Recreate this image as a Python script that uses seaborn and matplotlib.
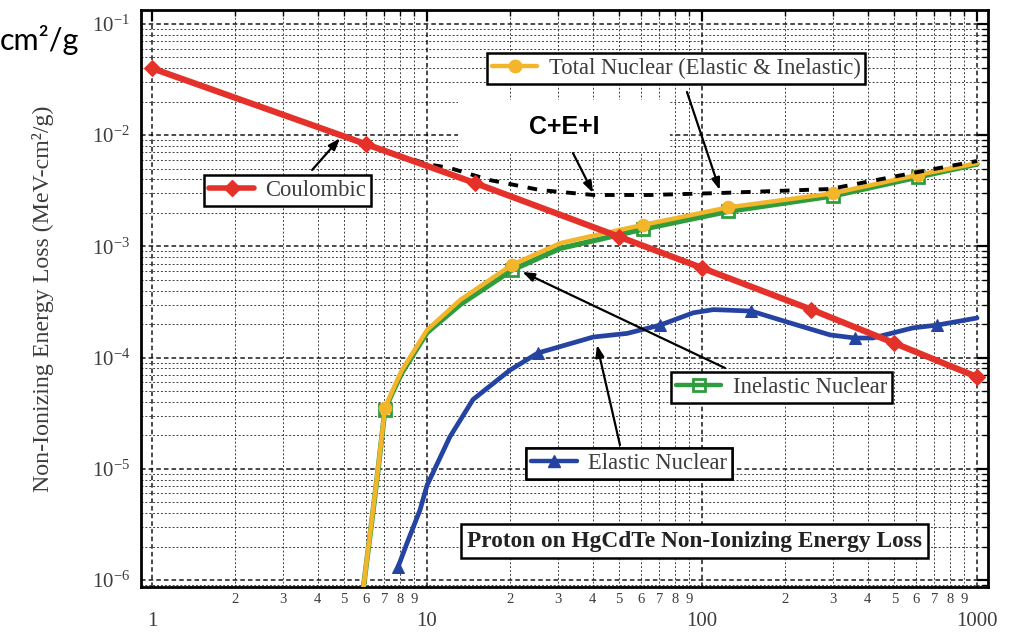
import numpy as np
import pandas as pd
import matplotlib
matplotlib.use("Agg")
import matplotlib.pyplot as plt
import matplotlib.ticker as mticker
import matplotlib.patches as mpatches
from matplotlib.lines import Line2D
import seaborn as sns

# proton energy (MeV) vs NIEL (MeV-cm2/g)
coul_e = [1, 6, 15, 50, 100, 250, 500, 1000]
coul_niel = [0.040, 0.0083, 0.0037, 0.00122, 0.00064, 0.00027, 0.000135, 6.7e-5]

total_e = [5.85, 6.28, 6.63, 7.03, 7.5, 8.1, 10, 13.2, 20.3, 30.5, 42.6, 61, 124, 299, 610, 1000]
total_niel = [8e-7, 3.3e-6, 9.8e-6, 3.5e-5, 5.1e-5, 7.7e-5, 1.77e-4, 3.3e-4, 6.8e-4, 1.07e-3,
              1.29e-3, 1.56e-3, 2.24e-3, 3.0e-3, 4.4e-3, 5.6e-3]

inel_e = [5.85, 6.28, 6.63, 7.03, 7.5, 8.1, 10, 13.2, 20.3, 30.5, 42.6, 61, 124, 299, 610, 1000]
inel_niel = [8e-7, 3.2e-6, 9.6e-6, 3.4e-5, 4.9e-5, 7.3e-5, 1.68e-4, 3.0e-4, 6.1e-4, 9.6e-4,
             1.16e-3, 1.43e-3, 2.06e-3, 2.84e-3, 4.2e-3, 5.5e-3]

elas_e = [7.85, 8.46, 9.43, 10, 12.1, 14.7, 20, 25.3, 40.2, 53.4, 70.4, 93, 110, 151, 209,
          292, 360, 417, 585, 716, 1000]
elas_niel = [1.31e-6, 2.15e-6, 4.26e-6, 7.1e-6, 1.93e-5, 4.2e-5, 7.7e-5, 1.1e-4, 1.53e-4,
             1.65e-4, 1.96e-4, 2.53e-4, 2.7e-4, 2.62e-4, 2.05e-4, 1.6e-4, 1.5e-4, 1.5e-4,
             1.85e-4, 1.96e-4, 2.27e-4]

# Coulombic + Elastic + Inelastic (dashed)
sum_e = [9, 10, 12.1, 16.9, 25.8, 40.2, 64.7, 116, 292, 610, 1000]
sum_niel = [6.0e-3, 5.5e-3, 5.07e-3, 3.95e-3, 3.21e-3, 2.9e-3, 2.9e-3, 3.02e-3, 3.28e-3,
            4.67e-3, 5.86e-3]

nuc_marks = [3, 8, 11, 12, 13, 14]
elas_marks = [0, 7, 10, 13, 16, 19]

RED = "#E4322A"
YEL = "#F3B62A"
GRN = "#2F9C3E"
BLU = "#2544A2"
TXT = "#3c3c3c"

sns.set_style("white")
plt.rcParams["font.family"] = ["Liberation Serif", "DejaVu Serif"]
plt.rcParams["mathtext.default"] = "regular"

fig = plt.figure(figsize=(10.15, 6.34), dpi=100)
ax = fig.add_axes([141 / 1015, 1 - 587 / 634, 847 / 1015, 577 / 634])
ax.set_xscale("log")
ax.set_yscale("log")

sns.lineplot(x=inel_e, y=inel_niel, ax=ax, color=GRN, lw=3.8, marker="s", ms=8,
             mfc="none", mec=GRN, mew=2, markevery=nuc_marks, estimator=None, sort=False,
             zorder=3)
sns.lineplot(x=total_e, y=total_niel, ax=ax, color=YEL, lw=3.2, marker="o", ms=9,
             mec=YEL, markevery=nuc_marks, estimator=None, sort=False, zorder=4)
sns.lineplot(x=elas_e, y=elas_niel, ax=ax, color=BLU, lw=3.4, marker="^", ms=9,
             mec=BLU, markevery=elas_marks, estimator=None, sort=False, zorder=4)
sns.lineplot(x=sum_e, y=sum_niel, ax=ax, color="black", lw=2.8, ls=(0, (2.5, 2.5)),
             estimator=None, sort=False, zorder=5)
sns.lineplot(x=coul_e, y=coul_niel, ax=ax, color=RED, lw=4.5, marker="D", ms=8,
             mec=RED, estimator=None, sort=False, zorder=6)

ax.set_xlim(0.912, 1096)
ax.set_ylim(8.65e-7, 0.1336)

# grid
ax.grid(True, which="major", color="black", ls=(0, (3, 2)), lw=1.1, alpha=0.9)
ax.grid(True, which="minor", color="black", ls=(0, (2, 2)), lw=0.7, alpha=0.75)
ax.set_axisbelow(True)

# ticks
ax.xaxis.set_major_locator(mticker.LogLocator(base=10, numticks=10))
ax.xaxis.set_minor_locator(mticker.LogLocator(base=10, subs=np.arange(2, 10), numticks=20))
ax.xaxis.set_major_formatter(mticker.FuncFormatter(lambda v, p: f"{int(round(v))}"))
ax.xaxis.set_minor_formatter(mticker.FuncFormatter(
    lambda v, p: f"{int(round(v / 10 ** np.floor(np.log10(v) + 1e-9)))}"))
ax.yaxis.set_major_locator(mticker.LogLocator(base=10, numticks=10))
ax.yaxis.set_minor_locator(mticker.LogLocator(base=10, subs=np.arange(2, 10), numticks=20))
ax.yaxis.set_major_formatter(mticker.LogFormatterMathtext())
ax.yaxis.set_minor_formatter(mticker.NullFormatter())

ax.tick_params(which="both", direction="in", top=True, right=True, colors="black",
               labelcolor=TXT)
ax.tick_params(which="major", length=8, width=1.6)
ax.tick_params(which="minor", length=4, width=1.0)
ax.tick_params(axis="x", which="major", labelsize=15, pad=18)
ax.tick_params(axis="x", which="minor", labelsize=10.5, pad=4)
ax.tick_params(axis="y", which="major", labelsize=15, pad=8)

for s in ax.spines.values():
    s.set_linewidth(2.0)
    s.set_color("black")

ax.set_ylabel("Non-Ionizing Energy Loss (MeV-cm²/g)", fontsize=17.2, color=TXT)
ax.yaxis.set_label_coords(-0.103, 0.5)


# legend boxes
def box_legend(handle, text, anchor, loc="upper left", fs=16.3):
    leg = ax.legend(handles=[handle], labels=[text], loc=loc,
                    bbox_to_anchor=anchor, borderaxespad=0, frameon=True,
                    fancybox=False, edgecolor="black", framealpha=1, fontsize=fs,
                    handlelength=2.0, handletextpad=0.5, borderpad=0.22)
    leg.get_frame().set_linewidth(1.8)
    leg.get_texts()[0].set_color(TXT)
    leg.set_zorder(10)
    ax.add_artist(leg)
    return leg


h_tot = Line2D([], [], color=YEL, lw=3.2, marker="o", ms=9, mec=YEL)
h_coul = Line2D([], [], color=RED, lw=4, marker="D", ms=8, mec=RED)
h_inel = Line2D([], [], color=GRN, lw=3.2, marker="s", ms=9, mfc="none", mec=GRN, mew=2)
h_elas = Line2D([], [], color=BLU, lw=3.2, marker="^", ms=9, mec=BLU)

box_legend(h_tot, "Total Nuclear (Elastic & Inelastic)", (0.4085, 0.9255))
box_legend(h_coul, "Coulombic", (0.0744, 0.714))
box_legend(h_inel, "Inelastic Nuclear", (0.8867, 0.3726), loc="upper right")
box_legend(h_elas, "Elastic Nuclear", (0.6978, 0.241), loc="upper right")

ax.text(0.6535, 0.0797, "Proton on HgCdTe Non-Ionizing Energy Loss", transform=ax.transAxes,
        ha="center", va="center", fontsize=16.8, fontweight="bold", color="#222222",
        zorder=10,
        bbox=dict(boxstyle="square,pad=0.26", fc="white", ec="black", lw=1.8))

# white patch with C+E+I label
ax.add_patch(mpatches.Rectangle((0.374, 0.754), 0.2505, 0.090, transform=ax.transAxes,
                                facecolor="white", edgecolor="none", zorder=9))
ax.text(0.4994, 0.797, "C+E+I", transform=ax.transAxes, ha="center", va="center",
        fontsize=18, fontweight="bold", family="Liberation Sans", color="black", zorder=10)

# arrows
arw = dict(arrowstyle="-|>,head_length=0.7,head_width=0.25", color="black", lw=1.6,
           shrinkA=0, shrinkB=0)
ax.annotate("", xy=(4.83, 9.4e-3), xytext=(0.202, 0.7227), textcoords="axes fraction",
            arrowprops=arw, zorder=11)
ax.annotate("", xy=(116, 3.21e-3), xytext=(0.6446, 0.8579), textcoords="axes fraction",
            arrowprops=arw, zorder=11)
ax.annotate("", xy=(40.2, 3.02e-3), xytext=(0.510, 0.752), textcoords="axes fraction",
            arrowprops=arw, zorder=11)
ax.annotate("", xy=(22.2, 5.9e-4), xytext=(0.6895, 0.3795), textcoords="axes fraction",
            arrowprops=arw, zorder=11)
ax.annotate("", xy=(41.5, 1.3e-4), xytext=(0.5655, 0.246), textcoords="axes fraction",
            arrowprops=arw, zorder=11)

fig.text(0.0, 0.937, "cm²/g", fontsize=22, family="Lato", ha="left", va="center",
         color="black")

fig.savefig("out.png", dpi=100)
